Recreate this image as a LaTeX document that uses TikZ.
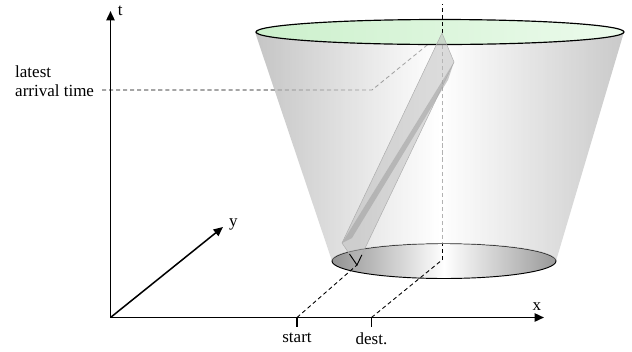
\documentclass[tikz,border=0pt]{standalone}
\usepackage{fontspec}
\setmainfont{Liberation Serif}
\usepackage{tikz}
\usetikzlibrary{positioning,arrows.meta,calc}
\definecolor{verdetapa}{RGB}{204,240,204}
\definecolor{verdeclaro}{RGB}{236,251,236}

\begin{document}
\begin{tikzpicture}[x=0.3mm, y=-0.3mm,
  eje/.style={line width=1.6pt, -{Triangle[length=8pt, width=7pt]}},
  guia/.style={dash pattern=on 3.5pt off 2.5pt, line width=0.75pt},
  rotulo/.style={font=\fontsize{14.5}{16.5}\selectfont, inner sep=1pt},
  cara/.style={fill=gray!55, fill opacity=0.5}]
  \useasboundingbox (0,0) rectangle (632,351);
  % puntos de referencia
  \coordinate (origen) at (110.5,317.5);
  \coordinate (tfin) at (110.5,11);
  \coordinate (xfin) at (544,317.5);
  \coordinate (yfin) at (223,227);
  \coordinate (inicio) at (297,317.5);
  \coordinate (destino) at (371.5,317.5);
  \coordinate (base) at (357,265);
  \coordinate (centro) at (442,260);
  \coordinate (cima) at (442,33);
  \coordinate (tope) at (442,4);
  \coordinate (codo) at (372,90);
  \coordinate (llegada) at (102,90);
  \coordinate (pizq) at (342,243);
  \coordinate (pder) at (454,62);

  % elipse inferior
  \shadedraw[draw=black, line width=0.8pt, left color=gray!85,
    right color=gray!80, middle color=white]
    (444,261) ellipse[x radius=33.6mm, y radius=5.25mm];

  % proyecciones
  \draw[guia] (inicio) -- (base);
  \draw[guia] (destino) -- (centro);
  \draw[guia] (centro) -- (cima);
  \draw[guia] (llegada) -- (codo) -- (cima);

  % cono
  \shade[left color=gray!65, right color=gray!60, middle color=white,
    opacity=0.7]
    (255,32) -- (332,261) arc[start angle=180, end angle=0,
    x radius=33.6mm, y radius=5.25mm] -- (624,32) -- cycle;
  \shadedraw[draw=black, line width=1pt, left color=verdetapa,
    right color=verdeclaro]
    (440,32) ellipse[x radius=55.2mm, y radius=3.75mm];
  \draw[guia] (cima) -- (tope);

  % prisma
  \fill[cara] (cima) -- (pder) -- (pizq) -- cycle;
  \fill[cara] (pizq) -- (pder) -- (base) -- cycle;
  \fill[gray!80, fill opacity=0.5] (pizq) -- (pder) -- (448,80) -- (352,238) -- cycle;
  \draw[gray!65, line width=0.4pt] (cima) -- (pder) -- (base) -- (pizq) -- cycle;
  \draw[line width=0.8pt] ($(base)!0.5!(pizq)$) -- (base) -- ($(base)!0.05!(pder)$);

  % ejes
  \draw[eje] (origen) -- (tfin);
  \draw[eje] (origen) -- (xfin);
  \draw[eje, line width=1.3pt] (origen) -- (yfin);
  \node[rotulo, right=5pt of tfin] (tnom) {t};
  \node[rotulo, above=5pt of xfin, xshift=-6pt] (xnom) {x};
  \node[rotulo, right=4pt of yfin, yshift=2pt] (ynom) {y};

  % marcas
  \draw[line width=0.9pt] (inicio) -- ++(0,9) coordinate (iniciob);
  \draw[line width=0.9pt] (destino) -- ++(0,9) coordinate (destinob);
  \node[rotulo, below=4pt of iniciob] (inom) {start};
  \node[rotulo, below=4pt of destinob] (dnom) {dest.};
  \node[rotulo, align=left, anchor=north west, inner sep=0pt] (lnom)
    at (15,65) {latest\\arrival time};
\end{tikzpicture}
\end{document}
